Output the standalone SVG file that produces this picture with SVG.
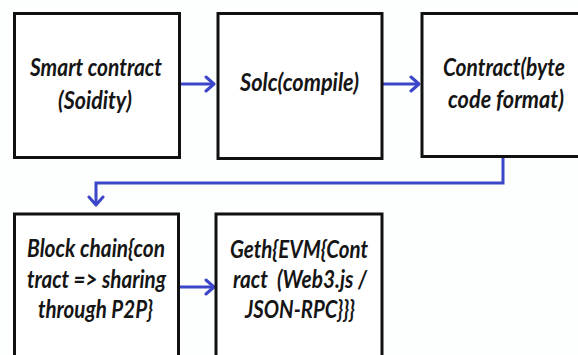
<svg xmlns="http://www.w3.org/2000/svg" width="578" height="355" viewBox="0 0 578 355">
  <style>
    .box { fill: #ffffff; stroke: #111111; stroke-width: 3; }
    .lbl { font-family: Lato, "Open Sans", "Liberation Sans", sans-serif; font-weight: bold; font-style: italic; font-size: 25px; fill: #151515; }
    .wire { fill: none; stroke: #3c46c8; stroke-width: 3; marker-end: url(#chev); }
  </style>
  <defs>
    <marker id="chev" markerUnits="userSpaceOnUse" markerWidth="14" markerHeight="18" refX="10" refY="9" orient="auto">
      <path d="M2,2 L10,9 L2,16" fill="none" stroke="#3c46c8" stroke-width="3" stroke-linecap="round" stroke-linejoin="round"/>
    </marker>
  </defs>
  <rect width="578" height="355" fill="#fdfefe"/>

  <g id="connectors">
    <line class="wire" x1="180" y1="84" x2="214" y2="84"/>
    <line class="wire" x1="383" y1="84" x2="419" y2="84"/>
    <polyline class="wire" points="503,158 503,183 96,183 96,205"/>
    <line class="wire" x1="179" y1="287" x2="214" y2="287"/>
  </g>

  <g id="smart-contract">
    <rect class="box" x="14.5" y="13.5" width="165" height="144"/>
    <text class="lbl" x="30" y="76" textLength="132" lengthAdjust="spacingAndGlyphs">Smart contract</text>
    <text class="lbl" x="58" y="109" textLength="74" lengthAdjust="spacingAndGlyphs">(Soidity)</text>
  </g>

  <g id="solc">
    <rect class="box" x="218" y="13.5" width="164" height="145"/>
    <text class="lbl" x="240" y="91" textLength="119" lengthAdjust="spacingAndGlyphs">Solc(compile)</text>
  </g>

  <g id="bytecode">
    <rect class="box" x="422" y="13.5" width="200" height="143"/>
    <text class="lbl" x="443" y="76" textLength="122" lengthAdjust="spacingAndGlyphs">Contract(byte</text>
    <text class="lbl" x="448" y="108" textLength="116" lengthAdjust="spacingAndGlyphs">code format)</text>
  </g>

  <g id="blockchain">
    <rect class="box" x="14.5" y="214" width="164" height="160"/>
    <text class="lbl" x="27" y="257" textLength="138" lengthAdjust="spacingAndGlyphs">Block chain{con</text>
    <text class="lbl" x="27" y="288" textLength="139" lengthAdjust="spacingAndGlyphs">tract =&gt; sharing</text>
    <text class="lbl" x="38" y="318" textLength="115" lengthAdjust="spacingAndGlyphs">through P2P}</text>
  </g>

  <g id="geth">
    <rect class="box" x="216" y="214" width="166" height="160"/>
    <text class="lbl" x="230" y="258" textLength="138" lengthAdjust="spacingAndGlyphs">Geth{EVM{Cont</text>
    <text class="lbl" x="233" y="288" textLength="134" lengthAdjust="spacingAndGlyphs" xml:space="preserve">ract  (Web3.js /</text>
    <text class="lbl" x="245" y="318" textLength="110" lengthAdjust="spacingAndGlyphs">JSON-RPC}}}</text>
  </g>
</svg>
